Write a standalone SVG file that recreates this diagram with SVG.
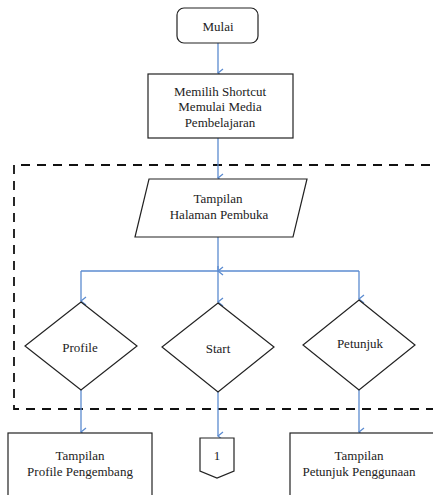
<svg xmlns="http://www.w3.org/2000/svg" width="433" height="495" viewBox="0 0 433 495">
<style>
.s{fill:#fff;stroke:#222;stroke-width:1.2}
.t{font-family:'Liberation Serif','DejaVu Serif',serif;font-size:13px;fill:#222;text-anchor:middle}
.c{fill:none;stroke:#5b8bd0;stroke-width:1.3}
.d{fill:none;stroke:#111;stroke-width:1.8;stroke-dasharray:9 7}
</style>
<defs>
<marker id="a" viewBox="0 0 10 10" refX="5" refY="9" markerWidth="10" markerHeight="10" markerUnits="userSpaceOnUse" orient="auto-start-reverse">
<path d="M1,4 L5,9 L9,4" fill="none" stroke="#5b8bd0" stroke-width="1.3"/>
</marker>
</defs>
<rect width="433" height="495" fill="#fff"/>
<g id="boundary">
<path class="d" d="M430,165 H14 V409 H433"/>
</g>
<g id="connectors">
<path class="c" d="M218,43 V73" marker-end="url(#a)"/>
<path class="c" d="M218,138 V178" marker-end="url(#a)"/>
<path class="c" d="M218,237 V270"/>
<path class="c" d="M218,266 V271" marker-end="url(#a)"/>
<path class="c" d="M81,271 H359"/>
<path class="c" d="M81,271 V301" marker-end="url(#a)"/>
<path class="c" d="M218,271 V302" marker-end="url(#a)"/>
<path class="c" d="M359,271 V299" marker-end="url(#a)"/>
<path class="c" d="M81,390 V432" marker-end="url(#a)"/>
<path class="c" d="M218,392 V436" marker-end="url(#a)"/>
<path class="c" d="M359,390 V432" marker-end="url(#a)"/>
</g>
<g id="mulai">
<rect class="s" x="177" y="8" width="81" height="35" rx="7"/>
<text class="t" x="218" y="31">Mulai</text>
</g>
<g id="memilih">
<rect class="s" x="148" y="74" width="145" height="64"/>
<text class="t" x="220" y="96">Memilih Shortcut</text>
<text class="t" x="220" y="111">Memulai Media</text>
<text class="t" x="220" y="127">Pembelajaran</text>
</g>
<g id="halaman">
<polygon class="s" points="149,179 307,179 293,237 135,237"/>
<text class="t" x="218" y="203">Tampilan</text>
<text class="t" x="219" y="219">Halaman Pembuka</text>
</g>
<g id="profile">
<polygon class="s" points="81,302 137,346 81,390 25,346"/>
<text class="t" x="80" y="352">Profile</text>
</g>
<g id="start">
<polygon class="s" points="218,303 274,347 218,392 162,347"/>
<text class="t" x="218" y="353">Start</text>
</g>
<g id="petunjuk">
<polygon class="s" points="359,300 415,345 359,390 303,345"/>
<text class="t" x="360" y="348">Petunjuk</text>
</g>
<g id="tampilan-profile">
<rect class="s" x="8" y="433" width="144" height="70"/>
<text class="t" x="80" y="460">Tampilan</text>
<text class="t" x="80" y="476">Profile Pengembang</text>
</g>
<g id="offpage">
<polygon class="s" points="200,438 234,438 234,471 217,478 200,471"/>
<text class="t" x="217" y="460">1</text>
</g>
<g id="tampilan-petunjuk">
<rect class="s" x="290" y="433" width="150" height="70"/>
<text class="t" x="359" y="460">Tampilan</text>
<text class="t" x="359" y="476">Petunjuk Penggunaan</text>
</g>
</svg>
